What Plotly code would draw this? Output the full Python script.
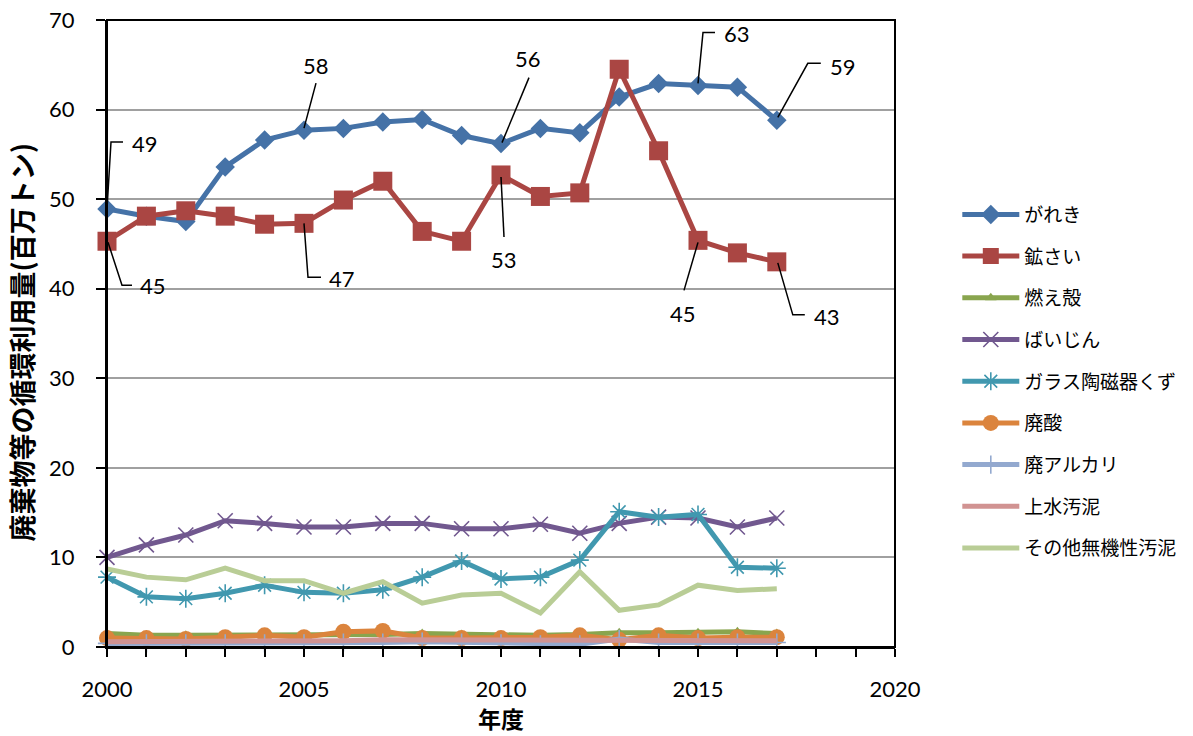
import plotly.graph_objects as go

years = list(range(2000, 2018))
gareki = [48.9, 48.1, 47.5, 53.6, 56.6, 57.7, 57.9, 58.6, 58.9, 57.1, 56.2, 57.9, 57.4, 61.4, 62.9, 62.7, 62.5, 58.8]
kosai = [45.3, 48.1, 48.7, 48.1, 47.2, 47.3, 49.9, 52.0, 46.4, 45.3, 52.7, 50.3, 50.7, 64.5, 55.4, 45.4, 44.0, 43.0]
moegara = [1.5, 1.3, 1.3, 1.3, 1.4, 1.4, 1.4, 1.4, 1.5, 1.4, 1.3, 1.3, 1.4, 1.6, 1.6, 1.6, 1.7, 1.5]
baijin = [10.0, 11.4, 12.5, 14.1, 13.8, 13.4, 13.4, 13.8, 13.8, 13.2, 13.2, 13.7, 12.7, 13.8, 14.5, 14.4, 13.4, 14.4]
glass = [7.8, 5.6, 5.4, 6.0, 6.9, 6.1, 6.0, 6.4, 7.8, 9.6, 7.6, 7.8, 9.7, 15.1, 14.5, 14.8, 8.9, 8.8]
haisan = [1.0, 1.0, 0.9, 1.1, 1.3, 1.1, 1.7, 1.8, 1.0, 1.0, 1.0, 1.1, 1.3, 0.8, 1.3, 1.0, 1.1, 1.1]
haialkali = [0.4, 0.4, 0.4, 0.4, 0.4, 0.4, 0.5, 0.5, 0.6, 0.5, 0.4, 0.3, 0.3, 0.9, 0.5, 0.5, 0.5, 0.5]
josui = [0.6, 0.6, 0.6, 0.6, 0.6, 0.6, 0.7, 0.8, 0.8, 0.7, 0.7, 0.7, 0.7, 0.8, 0.8, 0.8, 0.7, 0.7]
sonota = [8.7, 7.8, 7.5, 8.8, 7.4, 7.4, 6.0, 7.3, 4.9, 5.8, 6.0, 3.8, 8.4, 4.1, 4.7, 6.9, 6.3, 6.5]

names = ["がれき", "鉱さい", "燃え殻", "ばいじん", "ガラス陶磁器くず", "廃酸", "廃アルカリ", "上水汚泥", "その他無機性汚泥"]
series = [gareki, kosai, moegara, baijin, glass, haisan, haialkali, josui, sonota]
colors = ["#4572A7", "#AA4643", "#89A54E", "#71588F", "#4198AF", "#DB843D", "#93A9CF", "#D19392", "#B9CD96"]
symbols = ["diamond", "square", "triangle-up", "x-thin", "asterisk-open", "circle", "cross-thin", None, None]
msizes = [15, 19, 10, 15, 15, 16, 13, 0, 0]

FONT = "Lato, 'Noto Sans CJK JP', sans-serif"
JFONT = "'Noto Sans CJK JP', sans-serif"

fig = go.Figure()
for i, (nm, vals, col, sym, ms) in enumerate(zip(names, series, colors, symbols, msizes)):
    if sym is None:
        mode = "lines"
        marker = None
    else:
        mode = "lines+markers"
        if sym in ("x-thin", "asterisk-open", "cross-thin"):
            marker = dict(symbol=sym, size=ms, color=col, line=dict(color=col, width=1.6))
        else:
            marker = dict(symbol=sym, size=ms, color=col, line=dict(width=0))
    fig.add_trace(go.Scatter(x=years, y=vals, name=nm, mode=mode, line=dict(color=col, width=5),
                             marker=marker, cliponaxis=False, legendgroup=f"g{i}"))

# data labels with leader lines: (series, year, path pixel offsets (right, up), text offset)
labels = [
    (0, 2000, [(0, 0), (4, 67), (16, 67)], (38, 66)),
    (1, 2000, [(1, -1), (15, -44), (25, -44)], (46, -44)),
    (0, 2005, [(0, 2), (12, 47)], (12, 65)),
    (1, 2005, [(0, 0), (4, -54), (17, -54)], (38, -55)),
    (0, 2010, [(1, 1), (28, 66)], (27, 85)),
    (1, 2010, [(0, -2), (3, -62)], (3, -85)),
    (0, 2015, [(0, 2), (5, 53), (17, 53)], (39, 52)),
    (1, 2015, [(0, -2), (-14, -50)], (-15, -73)),
    (0, 2017, [(1, 3), (31, 57), (44, 57)], (66, 54)),
    (1, 2017, [(1, -1), (16, -53), (28, -53)], (50, -55)),
]
for si, yr, pts, (tx, ty) in labels:
    v = series[si][years.index(yr)]
    path = "M" + " L".join(f"{px},{py}" for px, py in pts)
    fig.add_shape(type="path", xref="x", yref="y", xsizemode="pixel", ysizemode="pixel",
                  xanchor=yr, yanchor=v, path=path, line=dict(color="black", width=1.5))
    fig.add_annotation(x=yr, y=v, xref="x", yref="y", text=f"{round(v)}", showarrow=False,
                       xshift=tx, yshift=ty, font=dict(family=FONT, size=22, color="black"))

# plot-area frame
fig.add_shape(type="rect", xref="paper", yref="paper", x0=0, x1=1, y0=0, y1=1,
              line=dict(color="black", width=2), layer="above")

# axis titles
fig.add_annotation(x=0, y=0.5, xref="paper", yref="paper", xshift=-86, yshift=-9,
                   text="<b>廃棄物等の循環利用量(百万トン)</b>",
                   textangle=-90, showarrow=False, xanchor="center", yanchor="middle",
                   font=dict(family=JFONT, size=27, color="black"))
fig.add_annotation(x=0.5, y=0, xref="paper", yref="paper", yshift=-71, text="<b>年度</b>",
                   showarrow=False, xanchor="center", yanchor="middle",
                   font=dict(family=JFONT, size=23, color="black"))

fig.update_layout(
    width=1193, height=736,
    margin=dict(l=107, r=297, t=20, b=89),
    paper_bgcolor="white", plot_bgcolor="white",
    font=dict(family=FONT, size=22, color="black"),
    showlegend=True,
    legend=dict(x=1.0777, y=0.72, xanchor="left", yanchor="top", font=dict(family=JFONT, size=19, color="black"),
                tracegroupgap=14, traceorder="grouped", itemwidth=57, bgcolor="rgba(0,0,0,0)"),
    xaxis=dict(range=[2000, 2020], tickvals=[2000, 2005, 2010, 2015, 2020], ticks="outside", ticklen=8,
               tickwidth=1.5, tickcolor="black", showline=True, linecolor="black", linewidth=2, mirror=False,
               showgrid=False, zeroline=False, automargin=False, ticklabelstandoff=14,
               ticklabeloverflow="allow",
               minor=dict(dtick=1, ticks="outside", ticklen=8, tickwidth=1.5, tickcolor="black", showgrid=False),
               tickfont=dict(family=FONT, size=22)),
    yaxis=dict(range=[0, 70], dtick=10, ticks="outside", ticklen=9, tickwidth=1.5, tickcolor="black",
               showline=True, linecolor="black", linewidth=2, mirror=False, automargin=False, ticklabelstandoff=17,
               ticklabeloverflow="allow",
               showgrid=True, gridcolor="#A0A0A0", gridwidth=1.5, zeroline=False,
               tickfont=dict(family=FONT, size=22)),
)

fig.write_html("out.html", config={"displayModeBar": False},
               post_script="document.body.style.margin='0';document.body.style.overflow='hidden';")
